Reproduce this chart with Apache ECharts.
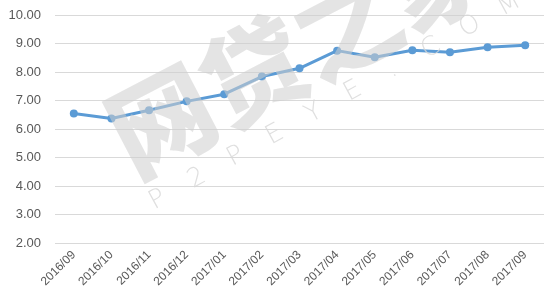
<!DOCTYPE html>
<html><head><meta charset="utf-8">
<script src="https://cdn.jsdelivr.net/npm/echarts@6/dist/echarts.min.js"></script>
<style>html,body{margin:0;padding:0;background:#fff}#c{width:558px;height:307px}</style>
</head><body><div id="c"></div>
<script>
const categories = ['2016/09','2016/10','2016/11','2016/12','2017/01','2017/02','2017/03','2017/04','2017/05','2017/06','2017/07','2017/08','2017/09'];
const values = [6.54, 6.37, 6.66, 6.97, 7.22, 7.84, 8.13, 8.75, 8.52, 8.76, 8.69, 8.87, 8.94];
const yMin = 2, yMax = 10, yStep = 1;
const watermarkLetters = ['P','2','P','E','Y','E','.','C','O','M'];

const wmGraphics = [
  {type:'text', z:100, x:300, y:48, rotation:0.48,
    style:{text:'网贷之家', fill:'rgba(205,205,205,0.55)', font:'900 104px "Noto Sans CJK SC"', align:'center', verticalAlign:'middle'}}
];
watermarkLetters.forEach((ch, i) => {
  wmGraphics.push({type:'text', z:100, x:158 + i*39, y:200 - i*21.7, rotation:0.5,
    style:{text:ch, fill:'rgba(215,215,215,0.8)', font:'300 26px "DejaVu Sans", sans-serif', align:'center', verticalAlign:'middle'}});
});

const chart = echarts.init(document.getElementById('c'), null, {renderer:'canvas'});
chart.setOption({
  animation:false,
  grid:{left:55, right:14, top:15, bottom:64},
  xAxis:{type:'category', data:categories, boundaryGap:true,
    axisLine:{show:false}, axisTick:{show:false},
    axisLabel:{rotate:45, color:'#595959', fontSize:12, fontFamily:'Liberation Sans, Arial', margin:10, interval:0}},
  yAxis:{type:'value', min:yMin, max:yMax, interval:yStep,
    axisLine:{show:false}, axisTick:{show:false},
    splitLine:{lineStyle:{color:'#d9d9d9', width:1}},
    axisLabel:{color:'#595959', fontSize:13, fontFamily:'Liberation Sans, Arial', margin:14,
      formatter:v=>v.toFixed(2)}},
  series:[{type:'line', data:values, symbol:'circle', symbolSize:8,
    lineStyle:{color:'#5B9BD5', width:3}, itemStyle:{color:'#5B9BD5'}, z:2}],
  graphic: wmGraphics
});
</script></body></html>
